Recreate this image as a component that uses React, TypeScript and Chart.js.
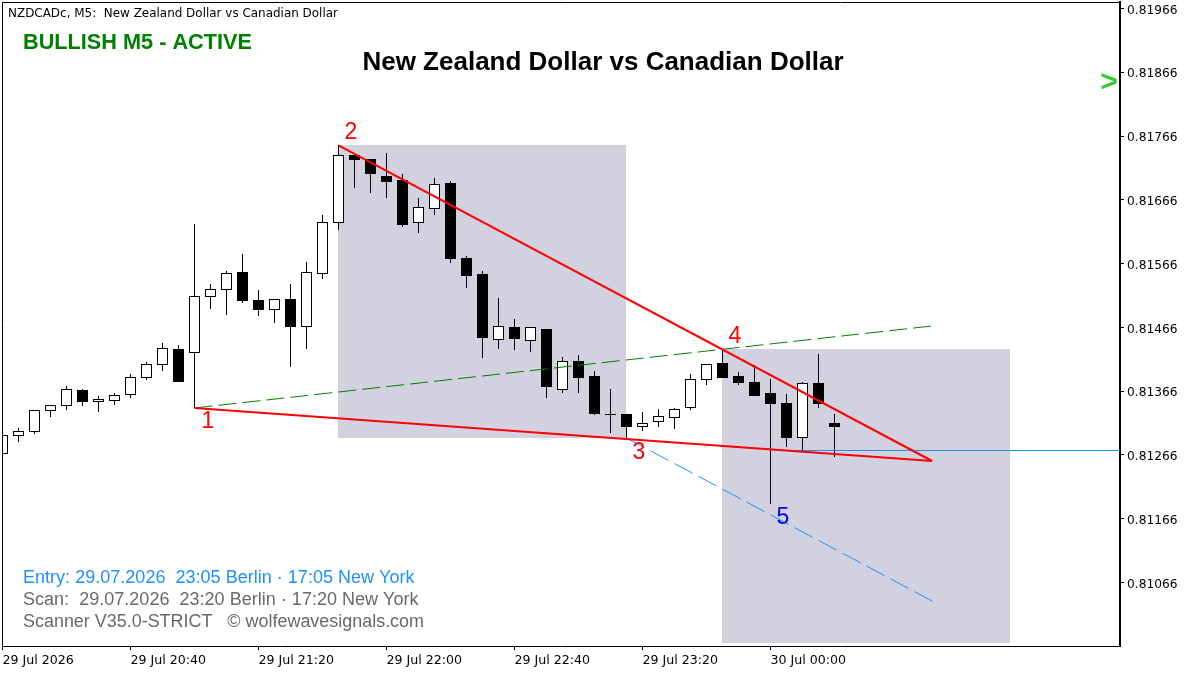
import React, { useEffect, useRef } from "react";
import { Chart, registerables } from "chart.js";

Chart.register(...registerables);

const opens = [
  0.812675, 0.812957, 0.813020, 0.813349, 0.813427, 0.813678, 0.813490, 0.813506, 0.813600, 0.813866,
  0.814070, 0.814321, 0.814258, 0.815136, 0.815246, 0.815528, 0.815089, 0.814933, 0.815105, 0.814666,
  0.815497, 0.816297, 0.817363, 0.817300, 0.817034, 0.816971, 0.816297, 0.816516, 0.816924, 0.815748,
  0.815497, 0.814462, 0.814666, 0.814447, 0.814635, 0.813678, 0.814133, 0.813898, 0.813302, 0.813302,
  0.813098, 0.813176, 0.813239, 0.813396, 0.813835, 0.814102, 0.813898, 0.813804, 0.813631, 0.813474,
  0.812926, 0.813788, 0.813161,
];
const highs = [
  0.812973, 0.813082, 0.813365, 0.813443, 0.813741, 0.813694, 0.813584, 0.813631, 0.813929, 0.814117,
  0.814415, 0.814384, 0.816281, 0.815340, 0.815544, 0.815811, 0.815246, 0.815105, 0.815340, 0.815685,
  0.816422, 0.817520, 0.817363, 0.817300, 0.817394, 0.817065, 0.816689, 0.817002, 0.816955, 0.815779,
  0.815544, 0.815121, 0.814791, 0.814666, 0.814635, 0.814196, 0.814227, 0.813976, 0.813694, 0.813302,
  0.813333, 0.813380, 0.813396, 0.813929, 0.814086, 0.814305, 0.813960, 0.814070, 0.813851, 0.813616,
  0.813804, 0.814243, 0.813302,
];
const lows = [
  0.812675, 0.812863, 0.812988, 0.813255, 0.813365, 0.813427, 0.813333, 0.813443, 0.813553, 0.813835,
  0.813976, 0.813804, 0.813396, 0.814948, 0.814854, 0.815042, 0.814838, 0.814729, 0.814039, 0.814321,
  0.815419, 0.816187, 0.816845, 0.816767, 0.816689, 0.816234, 0.816140, 0.816422, 0.815669, 0.815277,
  0.814180, 0.814321, 0.814305, 0.814274, 0.813553, 0.813631, 0.813631, 0.813286, 0.813004, 0.812910,
  0.813035, 0.813098, 0.813067, 0.813365, 0.813757, 0.813866, 0.813757, 0.813584, 0.811891, 0.812784,
  0.812737, 0.813396, 0.812628,
];
const closes = [
  0.812973, 0.813035, 0.813365, 0.813443, 0.813694, 0.813490, 0.813537, 0.813600, 0.813882, 0.814086,
  0.814337, 0.813804, 0.815152, 0.815262, 0.815513, 0.815074, 0.814933, 0.815105, 0.814666, 0.815528,
  0.816312, 0.817363, 0.817284, 0.817065, 0.816939, 0.816265, 0.816547, 0.816908, 0.815732, 0.815466,
  0.814494, 0.814682, 0.814478, 0.814666, 0.813725, 0.814133, 0.813866, 0.813302, 0.813286, 0.813098,
  0.813161, 0.813271, 0.813380, 0.813851, 0.814086, 0.813866, 0.813788, 0.813584, 0.813459, 0.812926,
  0.813788, 0.813459, 0.813098,
];

const priceTicks = [0.81966, 0.81866, 0.81766, 0.81666, 0.81566, 0.81466, 0.81366, 0.81266, 0.81166, 0.81066];
const timeTickIndex = [0, 8, 16, 24, 32, 40, 48];
const timeTickLabels = [
  "29 Jul 2026", "29 Jul 20:40", "29 Jul 21:20", "29 Jul 22:00",
  "29 Jul 22:40", "29 Jul 23:20", "30 Jul 00:00",
];

const lowerLine = [{ x: 12, y: 0.813396 }, { x: 58.1, y: 0.812565 }];
const upperLine = [{ x: 21, y: 0.817512 }, { x: 58.1, y: 0.812565 }];
const greenLine = [{ x: 12, y: 0.813396 }, { x: 58.1, y: 0.814682 }];
const blueDashed = [{ x: 39, y: 0.812926 }, { x: 58.1, y: 0.810370 }];
const blueLevel = [{ x: 49, y: 0.812730 }, { x: 70, y: 0.812730 }];
const boxOne = { from: 20.97, to: 38.97, top: 0.817520, bottom: 0.812926 };
const boxTwo = { from: 44.97, to: 62.97, top: 0.814321, bottom: 0.809711 };

const AXIS_FONT = '"DejaVu Sans"';
const ARIAL = '"Liberation Sans"';

const annotationPlugin = {
  id: "annotations",
  afterDraw(chart: any) {
    const { ctx, chartArea: a } = chart;
    ctx.save();
    ctx.strokeStyle = "#000";
    ctx.lineWidth = 1;
    ctx.beginPath();
    ctx.moveTo(a.left + 0.5, a.bottom);
    ctx.lineTo(a.left + 0.5, a.top + 0.5);
    ctx.lineTo(a.right, a.top + 0.5);
    ctx.stroke();

    const put = (t: string, x: number, y: number, font: string, color: string, maxW?: number, align: CanvasTextAlign = "left", spacing = "0px") => {
      ctx.font = font;
      ctx.fillStyle = color;
      ctx.textAlign = align;
      ctx.textBaseline = "alphabetic";
      ctx.letterSpacing = spacing;
      if (maxW) ctx.fillText(t, x, y, maxW);
      else ctx.fillText(t, x, y);
    };
    put("NZDCADc, M5:  New Zealand Dollar vs Canadian Dollar", 8, 17, `12px ${AXIS_FONT}`, "#000", 330);
    put("BULLISH M5 - ACTIVE", 23, 49, `bold 22px ${ARIAL}`, "#008000", 229);
    put("New Zealand Dollar vs Canadian Dollar", 603, 70, `bold 26px ${ARIAL}`, "#000", 483, "center");
    put("Entry: 29.07.2026  23:05 Berlin · 17:05 New York", 23, 583, `18px ${ARIAL}`, "#1E90FF", undefined, "left", "0.02px");
    put("Scan:  29.07.2026  23:20 Berlin · 17:20 New York", 23, 605, `18px ${ARIAL}`, "#696969", undefined, "left", "0.02px");
    put("Scanner V35.0-STRICT   © wolfewavesignals.com", 23, 627, `18px ${ARIAL}`, "#696969", 401);
    put("1", 208, 428, `23px ${ARIAL}`, "#FF0000", undefined, "center");
    put("2", 351, 139, `23px ${ARIAL}`, "#FF0000", undefined, "center");
    put("3", 639, 459, `23px ${ARIAL}`, "#FF0000", undefined, "center");
    put("4", 735, 343, `23px ${ARIAL}`, "#FF0000", undefined, "center");
    put("5", 783, 524, `23px ${ARIAL}`, "#0000FF", undefined, "center");
    put(">", 1109, 91, `bold 30px ${ARIAL}`, "#32CD32", undefined, "center");
    ctx.restore();
  },
};

export default function App() {
  const ref = useRef<HTMLCanvasElement>(null);
  useEffect(() => {
    const idx = opens.map((_, i) => i);
    const bodyColors = idx.map((i) => (closes[i] > opens[i] ? "#FFFFFF" : "#000000"));
    const lineDs = (data: any[], color: string, width: number, dash: number[], order: number) => ({
      type: "line" as const,
      data,
      borderColor: color,
      borderWidth: width,
      borderDash: dash,
      pointRadius: 0,
      tension: 0,
      fill: false,
      order,
    });
    const boxDs = (b: any) => ({
      type: "line" as const,
      data: [{ x: b.from, y: b.top }, { x: b.to, y: b.top }],
      borderWidth: 0,
      borderColor: "rgba(0,0,0,0)",
      backgroundColor: "#D1D1E0",
      pointRadius: 0,
      tension: 0,
      fill: { value: b.bottom },
      order: 20,
    });
    const chart = new Chart(ref.current!, {
      data: {
        datasets: [
          boxDs(boxOne),
          boxDs(boxTwo),
          {
            type: "bar",
            data: idx.map((i) => ({ x: i, y: [lows[i], highs[i]] })),
            backgroundColor: "#000000",
            borderWidth: 0,
            barThickness: 1,
            grouped: false,
            inflateAmount: 0,
            order: 10,
          },
          {
            type: "bar",
            data: idx.map((i) => ({ x: i, y: [opens[i], closes[i]] })),
            backgroundColor: bodyColors,
            borderColor: "#000000",
            borderWidth: 1,
            borderSkipped: false,
            barThickness: 11,
            grouped: false,
            inflateAmount: 0,
            order: 9,
          },
          lineDs(blueLevel, "#1E90FF", 1, [], 5),
          lineDs(blueDashed, "#1E90FF", 1, [20.4, 6.8], 4),
          lineDs(greenLine, "#008000", 1, [18.1, 6], 3),
          lineDs(lowerLine, "#FF0000", 2, [], 2),
          lineDs(upperLine, "#FF0000", 2, [], 1),
        ] as any,
      },
      options: {
        responsive: false,
        animation: false,
        devicePixelRatio: 1,
        layout: { padding: { left: 2, top: 2, right: 0, bottom: 0 } },
        plugins: { legend: { display: false }, tooltip: { enabled: false } },
        events: [],
        scales: {
          x: {
            type: "linear",
            offset: false,
            min: -0.03125,
            max: 69.84375,
            afterBuildTicks: (s: any) => {
              s.ticks = timeTickIndex.map((v) => ({ value: v }));
            },
            afterFit: (s: any) => {
              s.height = 27;
              s.paddingLeft = s.paddingRight = s.paddingTop = s.paddingBottom = 0;
            },
            border: { display: true, color: "#000", width: 1 },
            grid: { display: true, offset: false, drawOnChartArea: false, drawTicks: true, tickLength: 4, color: "#000" },
            ticks: {
              autoSkip: false,
              maxRotation: 0,
              minRotation: 0,
              align: "start",
              padding: 3,
              color: "#000",
              font: { family: '"DejaVu Sans"', size: 12.6 },
              callback: (v: any) => timeTickLabels[timeTickIndex.indexOf(Number(v))] ?? "",
            },
          },
          y: {
            type: "linear",
            position: "right",
            min: 0.8096644,
            max: 0.8197616,
            afterBuildTicks: (s: any) => {
              s.ticks = priceTicks.map((v) => ({ value: v }));
            },
            afterFit: (s: any) => {
              s.width = 78;
              s.paddingLeft = s.paddingRight = s.paddingTop = s.paddingBottom = 0;
              if (!s.__labelsShifted) {
                s.__labelsShifted = true;
                const compute = s._computeLabelItems.bind(s);
                s._computeLabelItems = (area: any) =>
                  compute(area).map((it: any) => ({
                    ...it,
                    options: {
                      ...it.options,
                      translation: [it.options.translation[0], it.options.translation[1] + 2],
                    },
                  }));
              }
            },
            border: { display: true, color: "#000", width: 2 },
            grid: { display: true, drawOnChartArea: false, drawTicks: true, tickLength: 4, color: "#000" },
            ticks: {
              autoSkip: false,
              padding: 3,
              color: "#000",
              font: { family: '"DejaVu Sans"', size: 12.2 },
              callback: (v: any) => Number(v).toFixed(5),
            },
          },
        },
      } as any,
      plugins: [annotationPlugin],
    });
    return () => chart.destroy();
  }, []);
  return (
    <div style={{ position: "absolute", left: 0, top: 0, width: 1198, height: 673, background: "#fff" }}>
      <canvas ref={ref} width={1198} height={673} style={{ display: "block", width: 1198, height: 673 }} />
    </div>
  );
}
